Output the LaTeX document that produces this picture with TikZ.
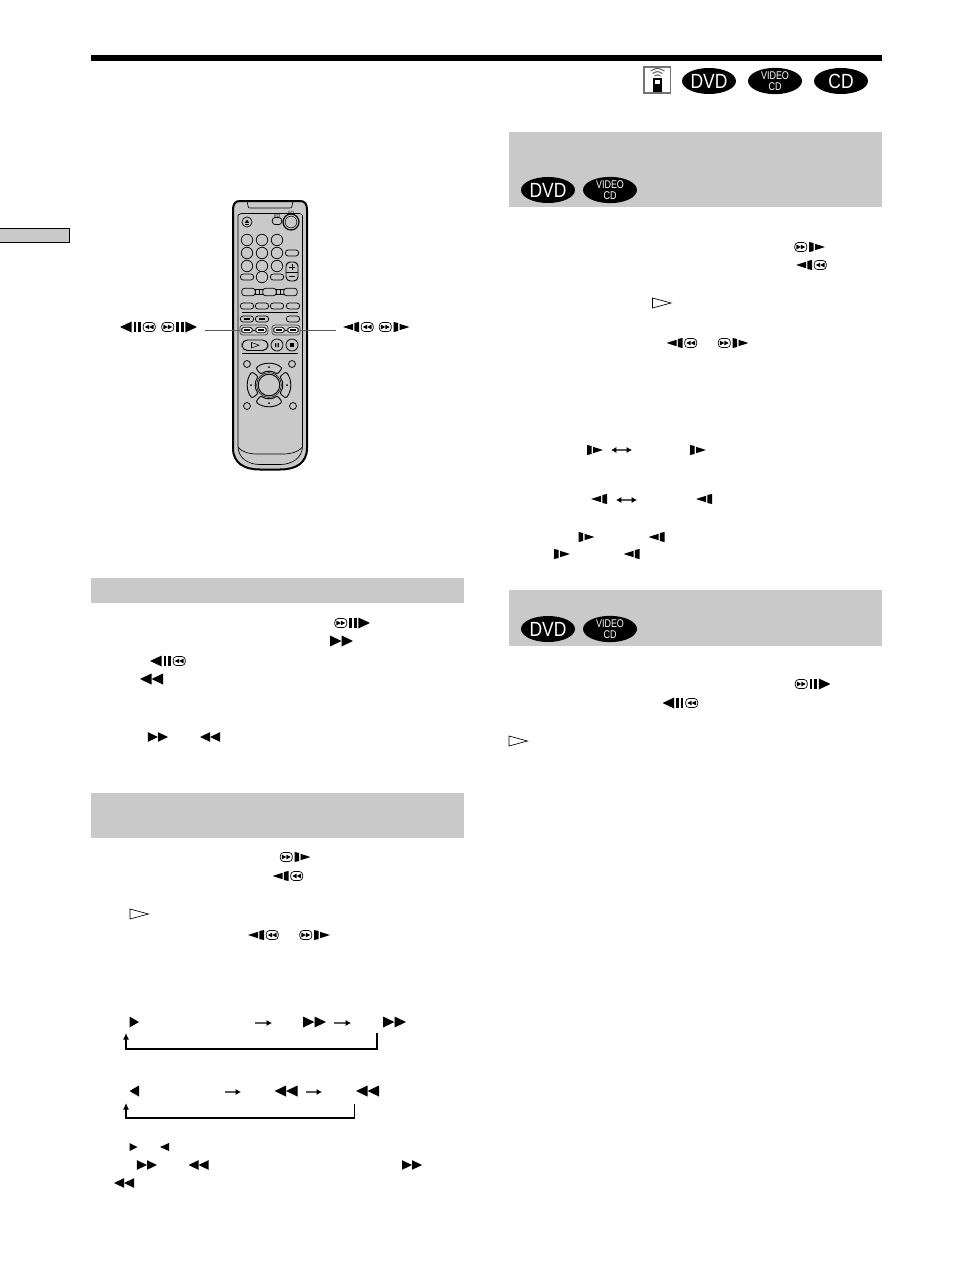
\documentclass[tikz,border=0pt]{standalone}
\usepackage{fontspec}
\setmainfont{Liberation Sans}
\newfontfamily\badgefont[FakeStretch=.85]{Liberation Sans}
\newfontfamily\vcdfont[FakeStretch=.8]{Liberation Sans}
\usetikzlibrary{arrows.meta,shapes.geometric}
\definecolor{panel}{gray}{0.79}
\tikzset{
  badge/.style={fill=black,ellipse,inner sep=0pt,minimum width=40.5pt,minimum height=19.5pt,
    text=white,align=center,font=\badgefont\fontsize{15.4}{15.4}\selectfont},
  smallbadge/.style={badge,font=\vcdfont\fontsize{8.4}{8}\selectfont},
  pill/.style={draw,line width=.55pt,fill=panel,rounded corners=2.2pt,inner sep=0pt,minimum width=10pt,minimum height=4.6pt},
  knob/.style={draw,line width=.55pt,fill=panel,circle,inner sep=0pt,minimum size=8.6pt},
  dot/.style={draw,line width=.55pt,fill=panel,circle,inner sep=0pt,minimum size=5.2pt},
  group/.style={draw=black!70,line width=.6pt,fill=panel,rounded corners=2pt,inner sep=0pt,minimum width=21pt,minimum height=7.4pt},
  leader/.style={draw=black!65,line width=.6pt},
  loopline/.style={line width=.8pt,-{Latex[length=5pt,width=4.6pt]}},
  flow/.style={draw=black!65,line width=.8pt,-{Latex[length=4pt,width=4.6pt,black]}},
  bothflow/.style={draw=black!65,line width=.8pt,{Latex[length=4pt,width=4.6pt,black]}-{Latex[length=4pt,width=4.6pt,black]}},
  ff/.pic={
    \fill (-11.5,-5.5) -- (0,0) -- (-11.5,5.5) -- cycle;
    \fill (0,-5.5) -- (11.5,0) -- (0,5.5) -- cycle;
  },
  ring/.pic={
    \draw[line width=.5pt,fill=white,rounded corners=2.5pt] (-6,-4.5) rectangle (6,4.5);
    \fill (-4.4,-2.4) -- (0,0) -- (-4.4,2.4) -- cycle;
    \fill (0,-2.4) -- (4.4,0) -- (0,2.4) -- cycle;
  },
  skipbars/.pic={
    \pic[transform shape] at (-11.7,0) {ring};
    \fill (-3.4,-5) rectangle (-.6,5);
    \fill (1.2,-5) rectangle (4,5);
    \fill (5.8,-5.5) -- (17.5,0) -- (5.8,5.5) -- cycle;
  },
  stepbar/.pic={
    \fill (-8,-5) -- (-3.4,-4) -- (-3.4,4) -- (-8,5) -- cycle;
    \fill (-2,-3.2) -- (8,0) -- (-2,3.2) -- cycle;
  },
  skipstep/.pic={
    \pic[transform shape] at (-9.2,0) {ring};
    \pic[transform shape] at (7,0) {stepbar};
  },
  hollow/.pic={
    \draw[line width=.5pt] (-9,-5) -- (9.5,0) -- (-9,5) -- cycle;
  }
}
\begin{document}
\begin{tikzpicture}[x=.75pt,y=-.75pt]
  \useasboundingbox (0,0) rectangle (954,1274);
  % rule and tab
  \fill (91,55) rectangle (882,61);
  \draw[fill=panel,line width=.6pt] (-2,228) rectangle (69,242);
  % panels
  \fill[panel] (509,132) rectangle (882,207);
  \fill[panel] (509,590) rectangle (882,646);
  \fill[panel] (91,578) rectangle (464,603);
  \fill[panel] (91,793) rectangle (464,838);
  % badges
  \foreach \name/\xpos/\ypos in {dvdtop/709/81,dvdone/548/190,dvdtwo/548/629} {
    \node[badge] (\name) at (\xpos,\ypos) {DVD};
  }
  \foreach \name/\xpos/\ypos in {vcdtop/775/81,vcdone/610/190,vcdtwo/610/629} {
    \node[smallbadge] (\name) at (\xpos,\ypos) {VIDEO\\CD};
  }
  \node[badge] (cdtop) at (841,81) {CD};
  % remote symbol
  \draw[draw=black!55,line width=.8pt,fill=white] (644,67) rectangle (670.5,93);
  \fill (653,78) rectangle (662,92);
  \fill[white] (655,80) rectangle (660,84);
  \foreach \ypos/\sag/\wid in {76/1.5/3,73.5/2.5/5,71/3.5/7} {
    \draw[black!60,line width=.8pt] (657.5-\wid,\ypos) .. controls (657.5,\ypos-\sag) .. (657.5+\wid,\ypos);
  }
  % remote
  \draw[line width=1.5pt,fill=panel] (240,201) -- (300,201) .. controls (305,201) and (307,204) .. (307,210)
    -- (307,448) .. controls (307,463) and (296,469.5) .. (280,469.5) -- (260,469.5)
    .. controls (244,469.5) and (233,463) .. (233,448) -- (233,210)
    .. controls (233,204) and (235,201) .. (240,201) -- cycle;
  \draw[line width=.5pt] (247,201) -- (248,206) .. controls (248.5,208) .. (251,208) -- (289,208)
    .. controls (291.5,208) .. (292,206) -- (293,201);
  \draw[line width=.5pt] (238,218) .. controls (238,214.5) .. (241,213.5) -- (299,213.5)
    .. controls (302.5,214.5) .. (302.5,218) -- (302.5,446)
    .. controls (302.5,458) and (292,464.5) .. (280,464.5) -- (260,464.5)
    .. controls (248,464.5) and (238,458) .. (238,446) -- cycle;
  \draw[line width=.5pt] (238,447) .. controls (243,453) and (250,454) .. (258,454) -- (282,454)
    .. controls (290,454) and (297,453) .. (302.5,447);
  % top buttons
  \node[knob,minimum size=7.6pt] (eject) at (247,222) {};
  \fill (244.8,222.8) -- (247,219.6) -- (249.2,222.8) -- cycle;
  \fill (244.8,223.6) rectangle (249.2,224.4);
  \node[pill,minimum width=7pt,minimum height=5.4pt] (ionote) at (277,221) {};
  \node[circle,draw,fill=panel,inner sep=0pt,minimum size=12pt,line width=.9pt] (power) at (291,222) {};
  \node[circle,draw,inner sep=0pt,minimum size=8.8pt,line width=.4pt] (powerin) at (291,222) {};
  \node[inner sep=0pt,font=\fontsize{3.4}{3.4}\selectfont] (iotext) at (277,215.5) {I/O};
  \node[inner sep=0pt,font=\fontsize{3.4}{3.4}\selectfont] (powertext) at (291,212.5) {I/O};
  % number keys
  \foreach \xpos/\col in {247/a,262/b,277/c} {
    \foreach \ypos/\row in {240/a,253/b,266/c} {
      \node[knob] (key\col\row) at (\xpos,\ypos) {};
    }
  }
  \node[knob] (keydb) at (262,277) {};
  \node[pill] (keyda) at (247,277) {};
  \node[pill] (keydc) at (277,277) {};
  \node[pill] (side) at (292,253) {};
  % volume
  \draw[line width=.7pt,fill=panel,rounded corners=3.2pt] (286,262) rectangle (298,281);
  \draw[line width=.5pt] (286,272) -- (298,272);
  \draw[line width=.7pt] (289,267) -- (295,267) (292,264.2) -- (292,269.8);
  \draw[line width=.7pt] (289,276.5) -- (295,276.5);
  % wide keys
  \draw[line width=.5pt] (255,289.5) rectangle (263,294.5) (276,289.5) rectangle (284,294.5);
  \draw[line width=.5pt] (259,289.5) -- (259,294.5) (280,289.5) -- (280,294.5);
  \foreach \xpos/\name in {248.5/a,269.5/b,290.5/c} {
    \node[pill,minimum width=10.2pt,minimum height=5.6pt] (wide\name) at (\xpos,292) {};
  }
  \foreach \xpos/\name in {247/a,262/b,277/c,293/d} {
    \node[pill] (row\name) at (\xpos,306) {};
  }
  \draw[line width=.5pt] (242,312.5) -- (298,312.5);
  \foreach \xpos/\name in {247/a,262/b} {
    \node[pill] (mark\name) at (\xpos,319) {};
    \fill (\xpos-3,318) rectangle (\xpos+3,320);
  }
  \node[pill] (markc) at (293,319) {};
  % search and skip groups
  \node[group] (leftgroup) at (254,330) {};
  \node[group] (rightgroup) at (286,330) {};
  \foreach \xpos/\name in {247/a,261/b,279/c,293/d} {
    \node[pill,minimum width=8pt,minimum height=4.2pt,fill=white] (skip\name) at (\xpos,330) {};
    \fill (\xpos-3,329.2) rectangle (\xpos+3,330.8);
  }
  \draw[line width=.5pt] (skipa) -- (skipb) (skipc) -- (skipd);
  \coordinate (leftend) at (205,330);
  \coordinate (rightend) at (336,330);
  \draw[leader] (leftend) -- (leftgroup);
  \draw[leader] (rightgroup) -- (rightend);
  % play row
  \draw[line width=.7pt,rounded corners=4pt,fill=panel] (242,340) rectangle (268,350.5);
  \draw[line width=.4pt] (251.5,342.5) -- (259,345.2) -- (251.5,348) -- cycle;
  \node[knob,minimum size=9pt] (pausekey) at (277,345) {};
  \node[knob,minimum size=9pt] (stopkey) at (292,345) {};
  \fill (275.2,343) rectangle (276.4,347) (277.6,343) rectangle (278.8,347);
  \fill (290.3,343.3) rectangle (293.7,346.7);
  \draw[line width=.5pt] (242,353.5) -- (298,353.5);
  % pad
  \foreach \xpos/\ypos/\name in {247/364/a,292/364/b,247/406/c,293/406/d} {
    \node[dot] (small\name) at (\xpos,\ypos) {};
  }
  \begin{scope}[shift={(269,385)}]
    \foreach \ang in {0,90,180,270} {
      \draw[line width=.7pt,fill=panel,rounded corners=1.5pt] (\ang-38:21.5) arc[start angle=\ang-38,end angle=\ang+38,radius=21.5]
        -- (\ang+38:13.5) arc[start angle=\ang+38,end angle=\ang-38,radius=13.5] -- cycle;
      \fill (\ang:18) circle (1);
    }
    \draw[line width=.7pt,fill=panel] (0,0) circle (10.8);
    \draw[line width=.4pt] (0,0) circle (12.4);
  \end{scope}
  % label symbols at the remote
  \pic[xscale=-1] at (137.5,327) {skipbars};
  \pic at (179.5,327) {skipbars};
  \pic[xscale=-1] at (358,327) {skipstep};
  \pic at (394.5,327) {skipstep};
  % skip with bars
  \foreach \xpos/\ypos in {352.5/623,813/684} {
    \pic at (\xpos,\ypos) {skipbars};
  }
  \foreach \xpos/\ypos in {167.5/661,680/703} {
    \pic[xscale=-1] at (\xpos,\ypos) {skipbars};
  }
  % skip with one bar
  \foreach \xpos/\ypos in {810/247,733.5/343,295.5/857,315/935} {
    \pic at (\xpos,\ypos) {skipstep};
  }
  \foreach \xpos/\ypos in {811/265,681.5/343,287.5/876,263/935} {
    \pic[xscale=-1] at (\xpos,\ypos) {skipstep};
  }
  % single steps
  \foreach \xpos/\ypos in {595/450,698/450,586.5/537,562/554} {
    \pic at (\xpos,\ypos) {stepbar};
  }
  \foreach \xpos/\ypos in {599/499,704/499,656.5/537,631.5/554} {
    \pic[xscale=-1] at (\xpos,\ypos) {stepbar};
  }
  % double triangles
  \foreach \xpos/\ypos in {341.5/641,314.5/1022,394.5/1022} {
    \pic at (\xpos,\ypos) {ff};
  }
  \foreach \xpos/\ypos in {151.5/679,286/1091,367.5/1091} {
    \pic[xscale=-1] at (\xpos,\ypos) {ff};
  }
  \foreach \xpos/\ypos in {158/737,147/1165,412/1165} {
    \pic[scale=.87] at (\xpos,\ypos) {ff};
  }
  \foreach \xpos/\ypos in {210/737,198.5/1165,124/1183} {
    \pic[scale=.87,xscale=-1] at (\xpos,\ypos) {ff};
  }
  % plain triangles
  \fill (129.5,1016.5) -- (139,1022) -- (129.5,1027.5) -- cycle;
  \fill (139,1085.5) -- (129.5,1091) -- (139,1096.5) -- cycle;
  \fill (129.5,1143) -- (137.5,1147) -- (129.5,1151) -- cycle;
  \fill (169,1143) -- (160,1147) -- (169,1151) -- cycle;
  % hollow triangles
  \foreach \xpos/\ypos in {661.5/303,139/914,518/741} {
    \pic at (\xpos,\ypos) {hollow};
  }
  % sequence arrows
  \foreach \name/\xa/\xb/\ypos in {fa/255/272/1023,fb/334/351/1023,ra/225/241/1092,rb/306/322/1092} {
    \coordinate (\name start) at (\xa,\ypos);
    \coordinate (\name end) at (\xb,\ypos);
    \draw[flow] (\name start) -- (\name end);
  }
  \coordinate (fastfrom) at (377,1033);
  \coordinate (fastto) at (126,1033);
  \draw[loopline] (fastfrom) -- (377,1049) -- (126,1049) -- (fastto);
  \coordinate (backfrom) at (354.5,1104);
  \coordinate (backto) at (126,1103);
  \draw[loopline] (backfrom) -- (354.5,1118) -- (126,1118) -- (backto);
  \coordinate (stepa) at (611,450);
  \coordinate (stepb) at (632,450);
  \coordinate (stepc) at (616,500);
  \coordinate (stepd) at (637,500);
  \draw[bothflow] (stepa) -- (stepb);
  \draw[bothflow] (stepc) -- (stepd);
\end{tikzpicture}
\end{document}
